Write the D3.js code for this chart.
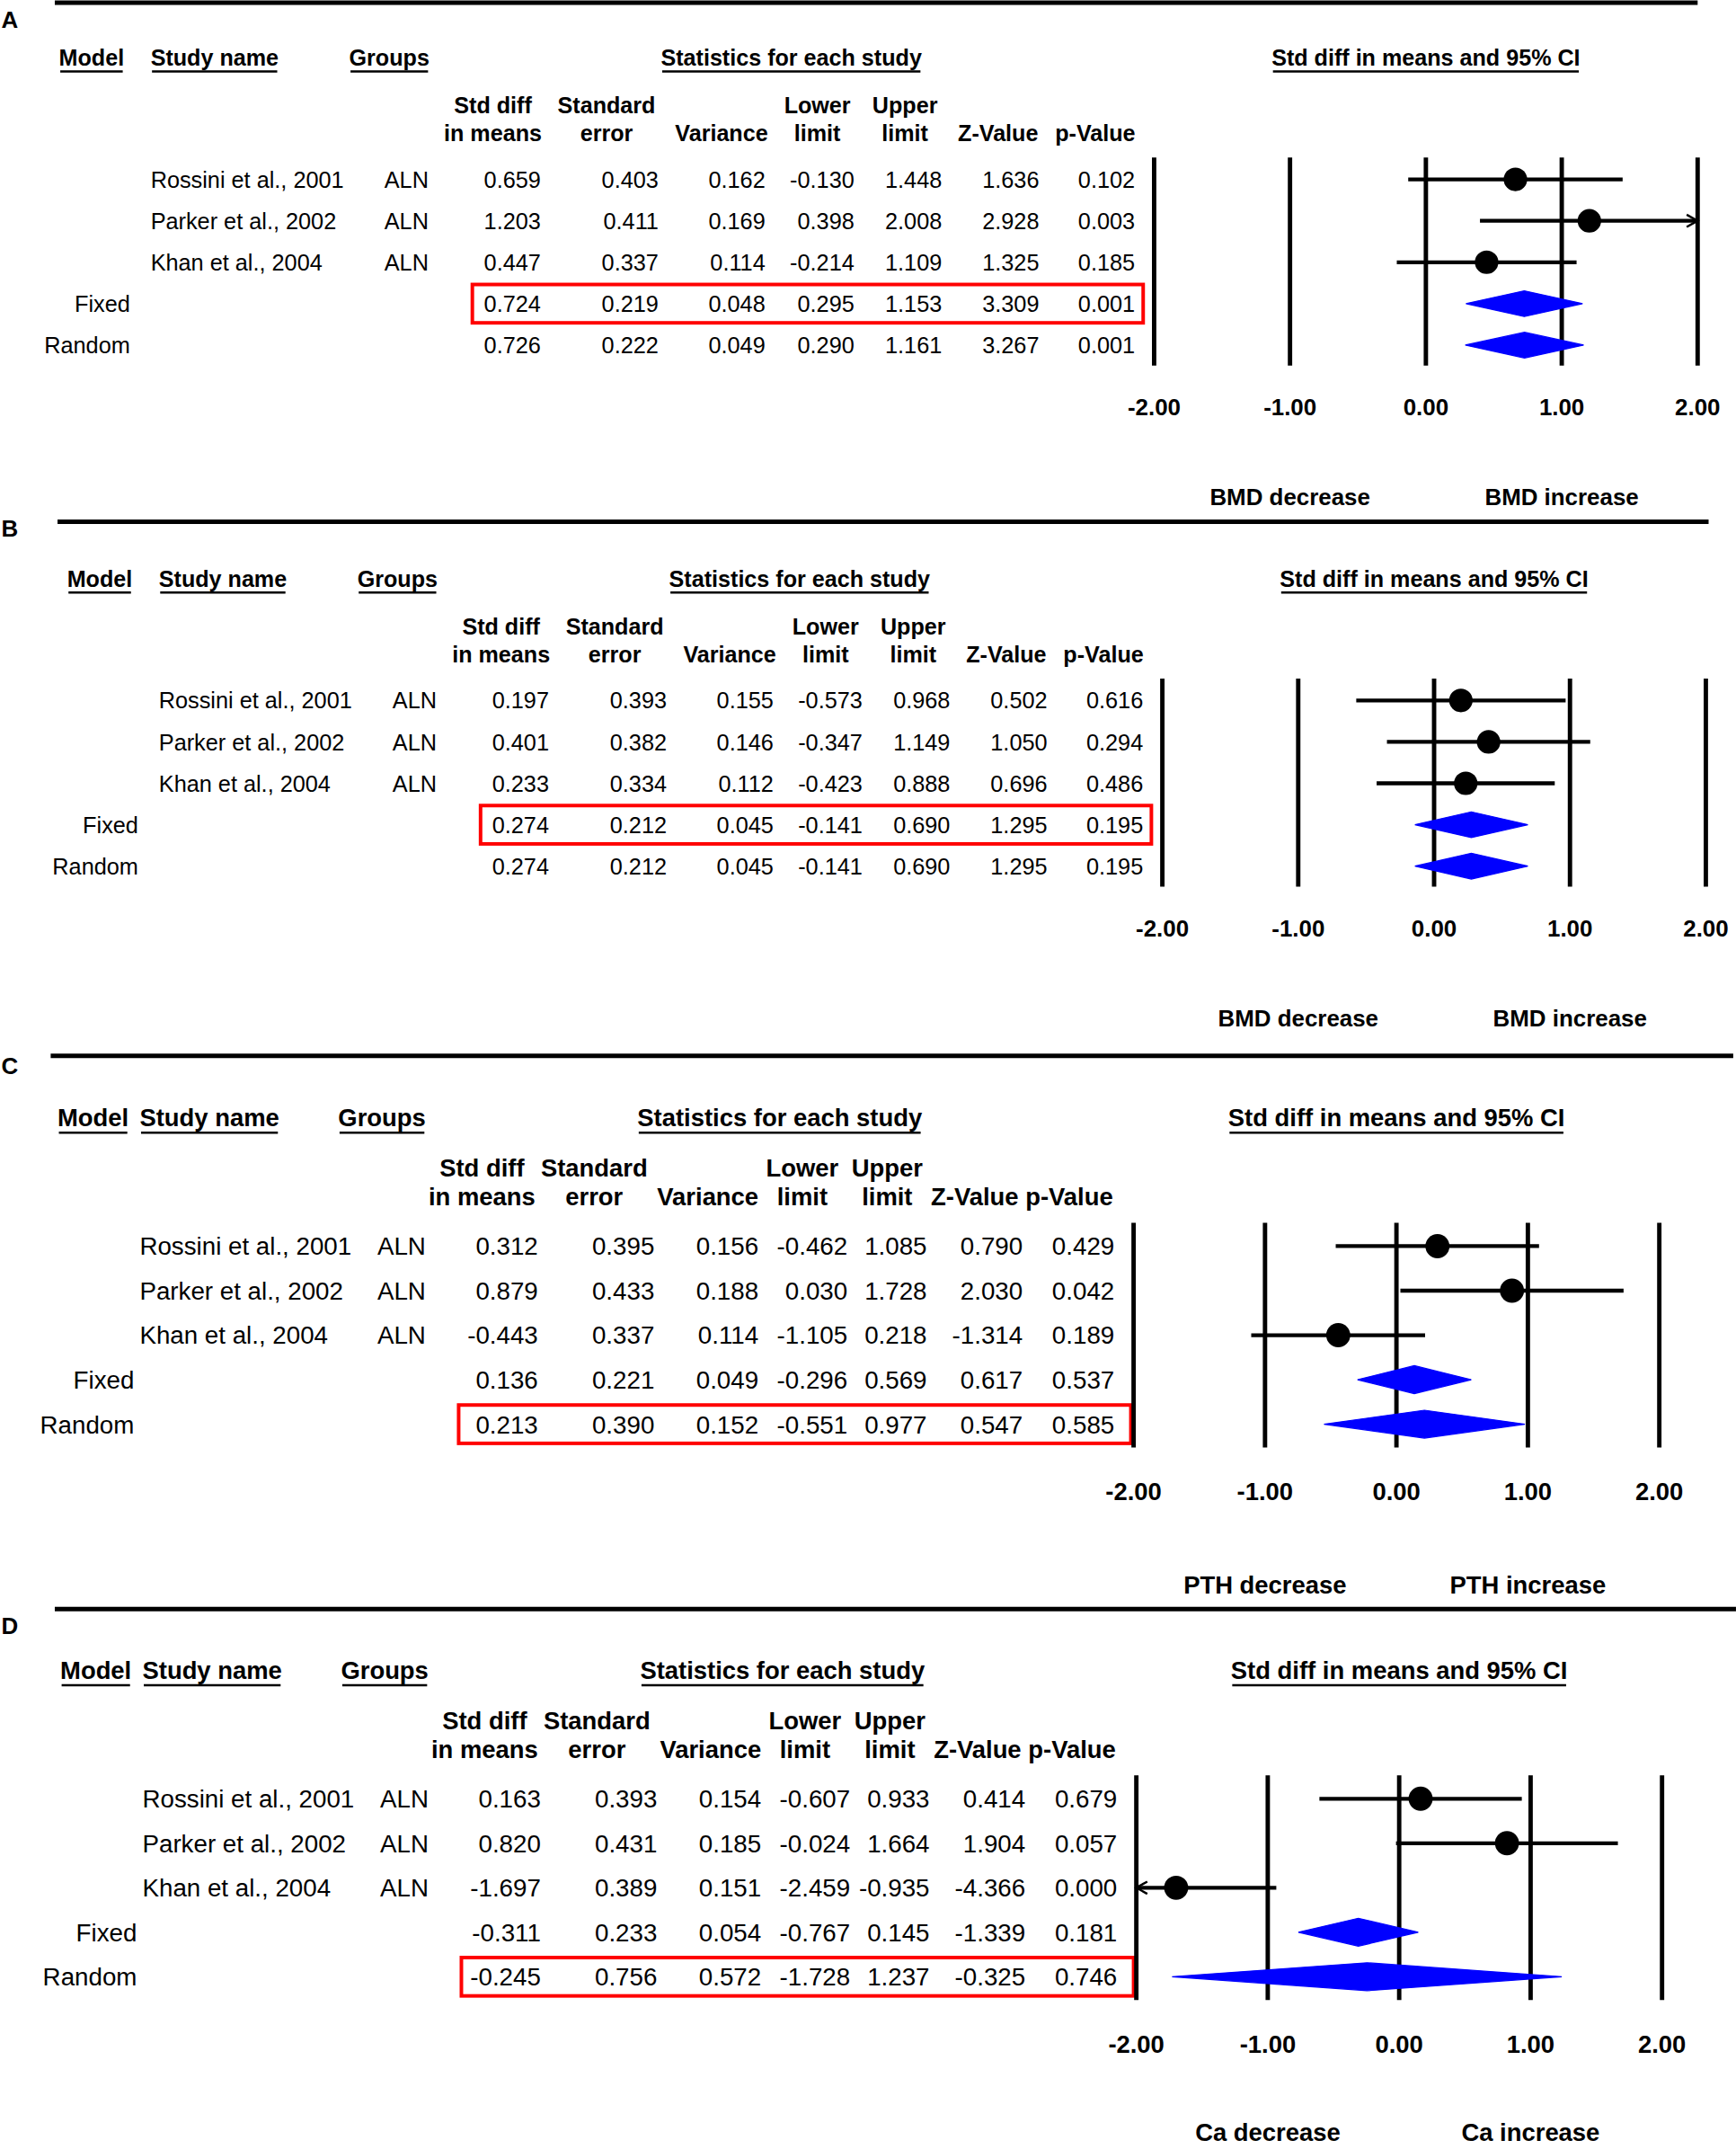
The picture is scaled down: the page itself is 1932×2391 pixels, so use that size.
<!DOCTYPE html>
<html><head><meta charset="utf-8">
<script src="https://cdn.jsdelivr.net/npm/d3@7"></script>
<style>
body{margin:0;background:#fff}
svg{display:block}
text{font-family:"Liberation Sans",Arial,Helvetica,sans-serif;fill:#000}
</style>
</head><body>
<svg id="chart"></svg>
<script>
// ---------------- DATA ----------------
const studies = ["Rossini et al., 2001", "Parker et al., 2002", "Khan et al., 2004"];
const groupLabel = "ALN";
const models = ["Fixed", "Random"];
const columnHeaders = [["Std diff","in means"],["Standard","error"],["","Variance"],["Lower","limit"],["Upper","limit"],["","Z-Value"],["","p-Value"]];
const tickValues = [-2, -1, 0, 1, 2];
const tickLabels = ["-2.00", "-1.00", "0.00", "1.00", "2.00"];
const panelLetters = ["A", "B", "C", "D"];
const outcomeNames = ["BMD", "BMD", "PTH", "Ca"];
const highlightRows = ["Fixed", "Fixed", "Random", "Random"];

// Panel A
const stdA   = [0.659, 1.203, 0.447, 0.724, 0.726];
const seA    = [0.403, 0.411, 0.337, 0.219, 0.222];
const varA   = [0.162, 0.169, 0.114, 0.048, 0.049];
const lowA   = [-0.130, 0.398, -0.214, 0.295, 0.290];
const upA    = [1.448, 2.008, 1.109, 1.153, 1.161];
const zA     = [1.636, 2.928, 1.325, 3.309, 3.267];
const pA     = [0.102, 0.003, 0.185, 0.001, 0.001];
// Panel B
const stdB   = [0.197, 0.401, 0.233, 0.274, 0.274];
const seB    = [0.393, 0.382, 0.334, 0.212, 0.212];
const varB   = [0.155, 0.146, 0.112, 0.045, 0.045];
const lowB   = [-0.573, -0.347, -0.423, -0.141, -0.141];
const upB    = [0.968, 1.149, 0.888, 0.690, 0.690];
const zB     = [0.502, 1.050, 0.696, 1.295, 1.295];
const pB     = [0.616, 0.294, 0.486, 0.195, 0.195];
// Panel C
const stdC   = [0.312, 0.879, -0.443, 0.136, 0.213];
const seC    = [0.395, 0.433, 0.337, 0.221, 0.390];
const varC   = [0.156, 0.188, 0.114, 0.049, 0.152];
const lowC   = [-0.462, 0.030, -1.105, -0.296, -0.551];
const upC    = [1.085, 1.728, 0.218, 0.569, 0.977];
const zC     = [0.790, 2.030, -1.314, 0.617, 0.547];
const pC     = [0.429, 0.042, 0.189, 0.537, 0.585];
// Panel D
const stdD   = [0.163, 0.820, -1.697, -0.311, -0.245];
const seD    = [0.393, 0.431, 0.389, 0.233, 0.756];
const varD   = [0.154, 0.185, 0.151, 0.054, 0.572];
const lowD   = [-0.607, -0.024, -2.459, -0.767, -1.728];
const upD    = [0.933, 1.664, -0.935, 0.145, 1.237];
const zD     = [0.414, 1.904, -4.366, -1.339, -0.325];
const pD     = [0.679, 0.057, 0.000, 0.181, 0.746];

const panelValues = [
  [stdA, seA, varA, lowA, upA, zA, pA],
  [stdB, seB, varB, lowB, upB, zB, pB],
  [stdC, seC, varC, lowC, upC, zC, pC],
  [stdD, seD, varD, lowD, upD, zD, pD]
];

// ---------------- LAYOUT ----------------
const W = 1268, H = 1569.3;
const svg = d3.select("#chart").attr("width", 1932).attr("height", 2391)
  .attr("viewBox", `0 0 ${W} ${H}`);

const layoutAB = {
  fs: 16.6, fsB: 16.5, fsT: 17.0,
  headerY: 42, hdr1: 77, hdr2: 97,
  row0: 131, rowStep: 30.25,
  vTop: 115, vBot: 267, tickY: 297, dirY: 363,
  xMin: 843, xMax: 1240,
  modelLeft: 43, studyHdrLeft: 110, groupsLeft: 255, studyLeft: 110, groupsRight: 313, modelRight: 95,
  colRight: [395, 481, 559, 624, 688, 759, 829],
  hdrCenter: [360, 443, 527, 597, 661, 729, 800],
  boxX1: 345, boxX2: 835, boxH: 14,
  dotR: 8.6, diaH: 9.4
};
const cdBase = {
  fs: 18.2, fsB: 18.0, fsT: 18.0,
  headerY: 45, hdr1: 82, hdr2: 103,
  row0: 139, rowStep: 32.5,
  vTop: 122, vBot: 286, tickY: 318, dirY: 386,
  xMin: 828, xMax: 1212,
  modelLeft: 42, studyHdrLeft: 102, groupsLeft: 247, studyLeft: 102, groupsRight: 311, modelRight: 98,
  colRight: [393, 478, 554, 619, 677, 747, 814],
  hdrCenter: [352, 434, 517, 586, 648, 712, 781],
  boxX1: 335, boxX2: 826, boxH: 14,
  dotR: 8.8, diaH: 10.2
};
const frames = [
  {L: layoutAB, dx: 0, dy: 0,     lineY: 2,    lineX: [40, 1240], letterY: 14},
  {L: layoutAB, dx: 6, dy: 380.5, lineY: 381,  lineX: [42, 1248], letterY: 386},
  {L: cdBase,   dx: 0, dy: 771,   lineY: 771,  lineX: [37, 1266], letterY: 778},
  {L: {...cdBase, dirY: 382.5}, dx: 2, dy: 1174.5, lineY: 1175, lineX: [40, 1268], letterY: 1187}
];

const fmt = d3.formatLocale({decimal: ".", thousands: ",", grouping: [3], currency: ["", ""], minus: "-"}).format(".3f");
const BLUE = "#0000ff", RED = "#ff0000";

// ---------------- DRAW ----------------
panelLetters.forEach((letter, pi) => {
  const F = frames[pi], L = F.L;
  const vals = panelValues[pi];
  const rows = studies.concat(models);
  const g = svg.append("g").attr("transform", `translate(${F.dx},${F.dy})`);
  const bl = fs => fs * 0.36; // baseline offset from visual center

  // separator line (global coords)
  svg.append("line").attr("x1", F.lineX[0]).attr("x2", F.lineX[1])
    .attr("y1", F.lineY).attr("y2", F.lineY)
    .attr("stroke", "#000").attr("stroke-width", 3.2);
  svg.append("text").attr("x", 1).attr("y", F.letterY + bl(17))
    .attr("font-size", 17).attr("font-weight", "bold").text(letter);

  const x = d3.scaleLinear().domain([tickValues[0], tickValues[tickValues.length - 1]]).range([L.xMin, L.xMax]);
  const y = d3.scalePoint().domain(rows).range([L.row0, L.row0 + (rows.length - 1) * L.rowStep]);

  // underlined section headers
  const hdrs = [
    {t: "Model", x: L.modelLeft, anchor: "start"},
    {t: "Study name", x: L.studyHdrLeft, anchor: "start"},
    {t: "Groups", x: L.groupsLeft, anchor: "start"},
    {t: "Statistics for each study", x: (L.colRight[0] - 72 + L.colRight[6]) / 2 + 2, anchor: "middle"},
    {t: "Std diff in means and 95% CI", x: x(0), anchor: "middle"}
  ];
  hdrs.forEach(h => {
    const t = g.append("text").attr("x", h.x).attr("y", L.headerY + bl(L.fsB))
      .attr("text-anchor", h.anchor).attr("font-size", L.fsB).attr("font-weight", "bold").text(h.t);
    const w = t.node().getComputedTextLength();
    const x0 = h.anchor === "middle" ? h.x - w / 2 : h.x;
    g.append("line").attr("x1", x0 + 1).attr("x2", x0 + w - 1)
      .attr("y1", L.headerY + L.fsB * 0.62).attr("y2", L.headerY + L.fsB * 0.62)
      .attr("stroke", "#000").attr("stroke-width", 1.6);
  });

  // column headers
  columnHeaders.forEach((ch, ci) => {
    [L.hdr1, L.hdr2].forEach((yy, li) => {
      if (!ch[li]) return;
      g.append("text").attr("x", L.hdrCenter[ci]).attr("y", yy + bl(L.fsB))
        .attr("text-anchor", "middle").attr("font-size", L.fsB).attr("font-weight", "bold").text(ch[li]);
    });
  });

  // row labels and values
  rows.forEach((r, ri) => {
    const yy = y(r) + bl(L.fs);
    if (ri < studies.length) {
      g.append("text").attr("x", L.studyLeft).attr("y", yy).attr("font-size", L.fs).text(r);
      g.append("text").attr("x", L.groupsRight).attr("y", yy).attr("text-anchor", "end").attr("font-size", L.fs).text(groupLabel);
    } else {
      g.append("text").attr("x", L.modelRight).attr("y", yy).attr("text-anchor", "end").attr("font-size", L.fs).text(r);
    }
    vals.forEach((col, ci) => {
      g.append("text").attr("x", L.colRight[ci]).attr("y", yy).attr("text-anchor", "end")
        .attr("font-size", L.fs).text(fmt(col[ri]));
    });
  });

  // highlight box
  const hr = highlightRows[pi];
  g.append("rect").attr("x", L.boxX1).attr("y", y(hr) - L.boxH)
    .attr("width", L.boxX2 - L.boxX1).attr("height", 2 * L.boxH)
    .attr("fill", "none").attr("stroke", RED).attr("stroke-width", 2.6);

  // vertical reference lines
  g.selectAll("line.v").data(tickValues).enter().append("line")
    .attr("x1", d => x(d)).attr("x2", d => x(d))
    .attr("y1", L.vTop).attr("y2", L.vBot)
    .attr("stroke", "#000").attr("stroke-width", 3.2);

  // tick labels
  tickValues.forEach((v, i) => {
    g.append("text").attr("x", x(v)).attr("y", L.tickY + bl(L.fsT))
      .attr("text-anchor", "middle").attr("font-size", L.fsT).attr("font-weight", "bold").text(tickLabels[i]);
  });

  // direction labels
  const out = outcomeNames[pi];
  [[-1, out + " decrease"], [1, out + " increase"]].forEach(([v, t]) => {
    g.append("text").attr("x", x(v)).attr("y", L.dirY + bl(L.fsT))
      .attr("text-anchor", "middle").attr("font-size", L.fsT).attr("font-weight", "bold").text(t);
  });

  const [std, , , low, up] = vals;
  const dmin = x.domain()[0], dmax = x.domain()[1];

  // study CIs and points
  studies.forEach((s, si) => {
    const yy = y(s);
    const lo = Math.max(low[si], dmin), hi = Math.min(up[si], dmax);
    g.append("line").attr("x1", x(lo)).attr("x2", x(hi)).attr("y1", yy).attr("y2", yy)
      .attr("stroke", "#000").attr("stroke-width", 2.8);
    if (up[si] > dmax) {
      g.append("path").attr("d", `M${x(dmax) - 8},${yy - 4.5}L${x(dmax)},${yy}L${x(dmax) - 8},${yy + 4.5}`)
        .attr("fill", "none").attr("stroke", "#000").attr("stroke-width", 1.6);
    }
    if (low[si] < dmin) {
      g.append("path").attr("d", `M${x(dmin) + 8},${yy - 4.5}L${x(dmin)},${yy}L${x(dmin) + 8},${yy + 4.5}`)
        .attr("fill", "none").attr("stroke", "#000").attr("stroke-width", 1.6);
    }
    g.append("circle").attr("cx", x(std[si])).attr("cy", yy).attr("r", L.dotR).attr("fill", "#000");
  });

  // pooled diamonds
  models.forEach((m, mi) => {
    const ri = studies.length + mi, yy = y(m);
    const pts = [[x(low[ri]), yy], [x(std[ri]), yy - L.diaH], [x(up[ri]), yy], [x(std[ri]), yy + L.diaH]];
    g.append("path").attr("d", d3.line()(pts) + "Z").attr("fill", BLUE).attr("stroke", BLUE).attr("stroke-width", 0.8);
  });
});
</script>
</body></html>
